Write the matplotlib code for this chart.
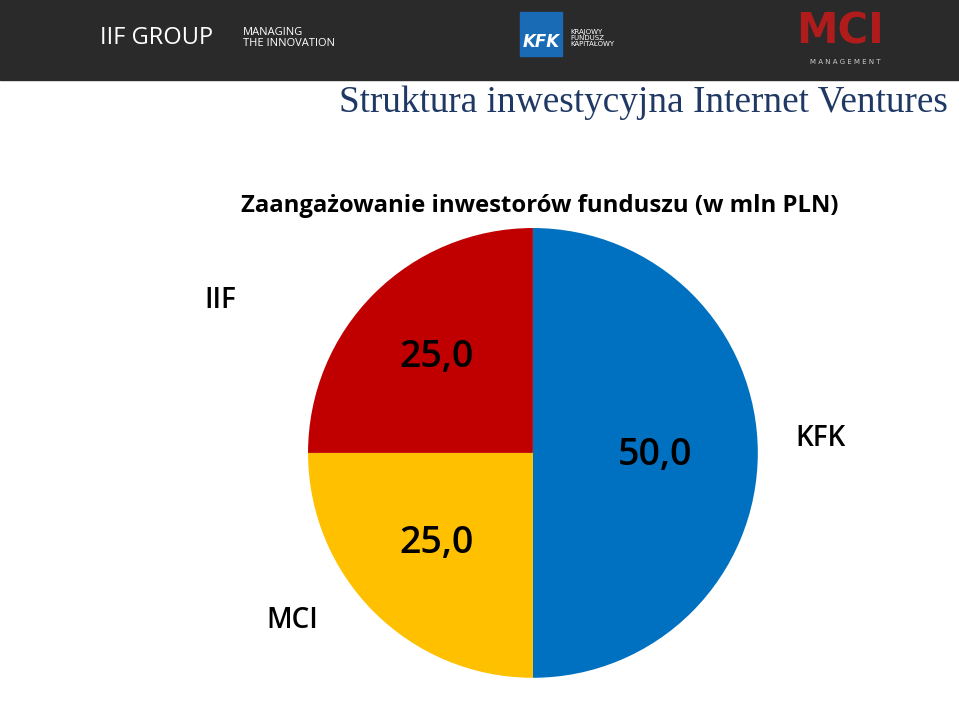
import matplotlib
matplotlib.use("Agg")
import matplotlib.pyplot as plt
from matplotlib.patches import Rectangle

categories = ["KFK", "MCI", "IIF"]
values = [50.0, 25.0, 25.0]
value_labels = ["50,0", "25,0", "25,0"]
colors = ["#0070C0", "#FFC000", "#C00000"]

fig = plt.figure(figsize=(9.59, 7.09), dpi=100)
fig.patch.set_facecolor("white")

# header bar
fig.add_artist(Rectangle((0, 1 - 80/709), 1, 80/709, transform=fig.transFigure, color="#2a2a2a", zorder=0))
fig.text(100/959, 1 - 38/709, "IIF GROUP", color="white", fontsize=17, va="center", family="Open Sans")
fig.text(243/959, 1 - 38/709, "MANAGING\nTHE INNOVATION", color="white", fontsize=8, va="center", family="Open Sans", linespacing=1.0)
fig.add_artist(Rectangle((520/959, 1 - 56/709), 42/959, 44/709, transform=fig.transFigure, color="#1a6bb5"))
fig.text(541/959, 1 - 42/709, "KFK", color="white", fontsize=12, weight="bold", ha="center", va="center", style="italic")
fig.text(570/959, 1 - 38/709, "KRAJOWY\nFUNDUSZ\nKAPITAŁOWY", color="white", fontsize=5, va="center", linespacing=1.0)
fig.text(840/959, 1 - 32/709, "MCI", color="#b01c1c", fontsize=30, weight="bold", ha="center", va="center")
fig.text(845/959, 1 - 62/709, "M A N A G E M E N T", color="#cccccc", fontsize=5, ha="center", va="center")

fig.text(948/959, 1 - 103/709, "Struktura inwestycyjna Internet Ventures", color="#1F3864",
         fontsize=26.8, ha="right", va="center", family="Liberation Serif")
fig.text(540/959, 1 - 206/709, "Zaangażowanie inwestorów funduszu (w mln PLN)", color="black",
         fontsize=17.2, weight="bold", ha="center", va="center", family="Open Sans")

ax = fig.add_axes([0.3212, 0.0437, 0.469, 0.635])
ax.pie(values, colors=colors, startangle=90, counterclock=False, radius=1)
ax.set_xlim(-1, 1); ax.set_ylim(-1, 1); ax.set_aspect("equal"); ax.axis("off")

value_pos = [(655, 455), (437, 543), (437, 357)]
cat_pos = [(820, 438), (292, 620), (220, 300)]
for lab, v, (x, y), (cx, cy) in zip(categories, value_labels, value_pos, cat_pos):
    fig.text(x/959, 1 - y/709, v, fontsize=27, weight="semibold", ha="center", va="center", family="Open Sans")
    fig.text(cx/959, 1 - cy/709, lab, fontsize=20, weight="semibold", ha="center", va="center", family="Open Sans")

fig.savefig("out.png", dpi=100)
